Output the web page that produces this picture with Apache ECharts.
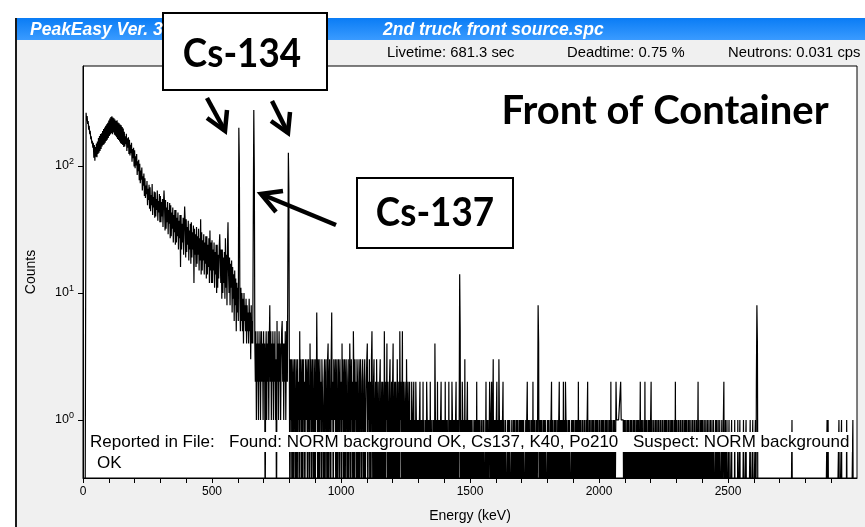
<!DOCTYPE html>
<html>
<head>
<meta charset="utf-8">
<script src="https://cdn.jsdelivr.net/npm/echarts@6/dist/echarts.min.js"></script>
<style>
  html, body { margin: 0; padding: 0; background: #ffffff; }
  #chart { width: 865px; height: 527px; }
</style>
</head>
<body>
<div id="chart"></div>
<script>
// Gamma spectrum, 2 keV per channel, counts per channel.
const keVPerChannel = 2;

// 0 - 598 keV: low-energy continuum and backscatter hump, Cs-134 563 keV line
const countsA = [
  0, 0, 0, 0, 0, 0, 262, 228, 247, 214,
  226, 193, 207, 178, 189, 162, 171, 150, 158, 139,
  152, 116, 146, 110, 141, 118, 150, 117, 156, 124,
  166, 127, 172, 131, 178, 136, 181, 142, 188, 146,
  195, 148, 201, 152, 207, 157, 213, 161, 219, 166,
  228, 172, 236, 177, 243, 181, 246, 178, 240, 183,
  237, 176, 232, 173, 226, 168, 229, 163, 220, 160,
  217, 156, 212, 151, 209, 149, 202, 146, 197, 141,
  186, 142, 171, 148, 179, 131, 165, 139, 168, 124,
  161, 121, 147, 126, 152, 108, 136, 115, 139, 99,
  133, 96, 119, 101, 124, 85, 109, 91, 112, 77,
  104, 73, 92, 78, 97, 64, 83, 70, 87, 58,
  80, 56, 70, 60, 76, 49, 66, 54, 71, 46,
  68, 44, 59, 49, 72, 41, 57, 47, 63, 39,
  62, 40, 55, 45, 64, 37, 53, 43, 60, 36,
  58, 36, 52, 40, 55, 33, 50, 64, 49, 31,
  54, 32, 47, 36, 52, 29, 45, 35, 51, 27,
  49, 28, 43, 32, 47, 25, 41, 30, 45, 24,
  45, 25, 39, 28, 43, 22, 37, 27, 41, 16,
  41, 22, 35, 25, 39, 20, 33, 48, 37, 19,
  38, 21, 33, 24, 37, 18, 31, 22, 35, 17,
  36, 19, 30, 22, 34, 12, 32, 20, 29, 16,
  33, 17, 28, 20, 32, 15, 27, 18, 38, 14,
  30, 15, 26, 18, 29, 14, 25, 17, 28, 13,
  28, 14, 24, 16, 27, 12, 31, 15, 25, 12,
  26, 12, 22, 15, 25, 11, 21, 14, 24, 10,
  24, 11, 20, 13, 23, 29, 19, 12, 22, 9,
  22, 10, 19, 12, 21, 9, 27, 11, 20, 8,
  23, 36, 15, 10, 19, 8, 17, 11, 18, 7,
  16, 9, 14, 6, 15, 8, 13, 5, 12, 7
];
// 600 - 798 keV: Cs-134 605 / 796 keV and Cs-137 662 keV
const countsB = [
  11, 6, 200, 105, 9, 5, 11, 6, 10, 5,
  9, 4, 10, 6, 8, 5, 9, 4, 8, 5,
  7, 4, 9, 5, 7, 3, 8, 4, 6, 4,
  40, 275, 93, 4, 2, 5, 1, 4, 2, 5,
  1, 4, 2, 5, 1, 3, 5, 2, 4, 1,
  5, 2, 4, 0, 3, 5, 1, 4, 2, 5,
  1, 4, 8, 2, 5, 1, 4, 2, 5, 1,
  4, 2, 5, 1, 3, 0, 6, 2, 4, 1,
  5, 2, 4, 1, 3, 5, 6, 2, 4, 1,
  4, 2, 5, 1, 3, 6, 2, 17, 127, 65
];
// 800 - 1298 keV
const countsC = [
  2, 0, 3, 1, 3, 0, 2, 3, 0, 2,
  3, 1, 0, 3, 2, 0, 3, 1, 2, 0,
  5, 1, 3, 0, 2, 3, 0, 3, 1, 2,
  0, 3, 2, 1, 3, 0, 2, 3, 1, 0,
  4, 1, 3, 0, 2, 3, 1, 0, 3, 2,
  0, 3, 1, 7, 2, 0, 3, 2, 0, 3,
  1, 2, 0, 3, 3, 1, 0, 2, 3, 0,
  2, 3, 1, 0, 3, 4, 0, 2, 3, 1,
  0, 3, 7, 1, 2, 0, 3, 2, 1, 3,
  0, 2, 3, 0, 1, 3, 2, 0, 3, 1,
  2, 0, 4, 1, 3, 0, 2, 3, 0, 2,
  3, 1, 0, 2, 3, 0, 1, 4, 2, 0,
  3, 1, 2, 0, 5, 2, 0, 3, 1, 2,
  0, 3, 2, 0, 1, 3, 0, 2, 3, 1,
  0, 2, 3, 1, 0, 2, 3, 0, 1, 2,
  3, 4, 0, 2, 1, 3, 0, 2, 0, 3,
  5, 1, 0, 2, 3, 0, 1, 2, 0, 3,
  1, 0, 2, 1, 0, 2, 3, 0, 1, 2,
  0, 2, 1, 0, 5, 1, 0, 2, 1, 4,
  0, 2, 1, 0, 2, 3, 0, 1, 2, 0,
  2, 4, 0, 1, 2, 0, 2, 1, 0, 3,
  1, 0, 2, 0, 5, 1, 2, 0, 1, 5,
  0, 2, 1, 0, 2, 1, 0, 3, 1, 0,
  2, 0, 1, 2, 0, 1, 0, 2, 1, 0,
  1, 2, 0, 1, 0, 2, 1, 0, 1, 0
];
// 1300 - 1998 keV: K-40 1461 keV and Bi-214 1764 keV
const countsD = [
  1, 0, 1, 2, 0, 1, 0, 1, 0, 2,
  0, 1, 1, 0, 1, 0, 2, 1, 0, 1,
  0, 1, 0, 2, 0, 1, 1, 0, 1, 0,
  1, 0, 4, 1, 0, 1, 0, 2, 0, 1,
  0, 1, 0, 1, 2, 0, 1, 0, 1, 0,
  1, 0, 2, 0, 1, 0, 1, 1, 0, 2,
  0, 1, 0, 1, 0, 2, 1, 0, 1, 0,
  1, 0, 1, 2, 0, 1, 0, 1, 0, 1,
  14, 5, 0, 1, 0, 2, 1, 0, 1, 0,
  3, 0, 1, 0, 1, 2, 0, 1, 0, 1,
  0, 1, 0, 1, 1, 0, 1, 0, 0, 1,
  0, 1, 0, 2, 0, 1, 0, 1, 0, 1,
  1, 0, 1, 0, 0, 1, 0, 1, 1, 0,
  0, 2, 0, 1, 0, 1, 0, 0, 2, 1,
  0, 1, 2, 0, 1, 3, 0, 1, 0, 1,
  0, 1, 2, 0, 1, 0, 3, 1, 0, 1,
  0, 1, 0, 1, 2, 0, 1, 0, 0, 1,
  1, 0, 0, 1, 0, 1, 0, 1, 1, 0,
  0, 1, 0, 0, 1, 0, 1, 1, 0, 1,
  0, 1, 0, 1, 0, 0, 1, 0, 1, 0,
  1, 0, 1, 0, 1, 1, 0, 0, 1, 0,
  1, 2, 0, 1, 0, 1, 0, 0, 1, 0,
  1, 0, 2, 0, 1, 0, 1, 0, 0, 1,
  0, 1, 8, 4, 0, 1, 0, 1, 0, 1,
  0, 0, 1, 0, 1, 0, 1, 1, 0, 0,
  1, 0, 1, 0, 0, 1, 0, 1, 2, 0,
  1, 0, 0, 1, 0, 1, 0, 1, 0, 0,
  1, 0, 1, 2, 0, 1, 0, 1, 0, 1,
  0, 2, 0, 1, 0, 2, 1, 0, 1, 0,
  0, 1, 0, 1, 1, 0, 0, 1, 0, 1,
  0, 1, 0, 0, 1, 0, 1, 0, 1, 0,
  2, 0, 1, 0, 1, 0, 0, 1, 0, 1,
  1, 0, 1, 0, 0, 1, 0, 1, 2, 0,
  0, 1, 0, 1, 0, 0, 1, 0, 1, 0,
  1, 0, 0, 1, 0, 1, 0, 1, 0, 0
];
// 2000 - 2618 keV: Tl-208 2614 keV
const countsE = [
  1, 0, 1, 0, 0, 1, 0, 1, 0, 1,
  0, 0, 1, 0, 1, 0, 1, 0, 0, 1,
  0, 1, 0, 2, 0, 1, 0, 0, 1, 0,
  1, 0, 0, 2, 1, 1, 1, 1, 1, 1,
  1, 1, 2, 1, 1, 1, 1, 1, 0, 1,
  0, 1, 0, 0, 1, 0, 1, 0, 1, 0,
  0, 1, 0, 1, 0, 0, 1, 0, 1, 0,
  1, 0, 0, 1, 0, 1, 0, 1, 0, 0,
  2, 0, 1, 0, 1, 0, 0, 1, 0, 2,
  0, 1, 0, 1, 0, 0, 1, 0, 1, 0,
  1, 2, 0, 1, 0, 0, 1, 0, 0, 1,
  0, 1, 0, 0, 1, 0, 1, 0, 0, 1,
  0, 0, 1, 0, 1, 0, 0, 1, 0, 1,
  0, 1, 0, 0, 1, 0, 1, 0, 0, 1,
  0, 1, 0, 1, 0, 0, 1, 0, 2, 0,
  1, 0, 0, 1, 0, 1, 0, 0, 1, 0,
  0, 1, 0, 1, 0, 0, 1, 0, 1, 0,
  1, 0, 0, 1, 0, 1, 0, 0, 1, 0,
  0, 1, 0, 0, 1, 0, 1, 0, 0, 1,
  0, 0, 2, 0, 1, 0, 0, 1, 0, 1,
  0, 1, 0, 0, 1, 0, 0, 1, 0, 0,
  1, 0, 0, 1, 0, 0, 1, 0, 0, 1,
  0, 0, 1, 0, 0, 0, 1, 0, 1, 0,
  0, 1, 0, 0, 1, 0, 0, 0, 1, 0,
  0, 1, 2, 0, 0, 1, 0, 0, 1, 0,
  0, 0, 1, 0, 0, 0, 0, 1, 0, 0,
  0, 0, 0, 1, 0, 0, 0, 0, 0, 1,
  0, 0, 0, 1, 0, 0, 0, 0, 0, 0,
  1, 0, 0, 0, 0, 1, 0, 0, 0, 0,
  0, 0, 0, 1, 0, 0, 0, 0, 1, 0,
  0, 0, 0, 1, 0, 2, 8, 4, 0, 0
];
// 2620 - 2998 keV
const countsF = [
  0, 0, 0, 0, 0, 0, 0, 0, 0, 0,
  0, 0, 0, 0, 0, 0, 0, 0, 0, 0,
  0, 0, 0, 0, 0, 0, 0, 0, 0, 0,
  0, 0, 0, 0, 0, 0, 0, 0, 0, 0,
  0, 0, 0, 0, 0, 0, 0, 0, 0, 0,
  0, 0, 0, 0, 0, 0, 0, 0, 0, 0,
  0, 0, 0, 0, 1, 0, 0, 0, 0, 0,
  0, 0, 0, 0, 0, 0, 0, 0, 0, 0,
  0, 0, 0, 0, 0, 0, 0, 0, 0, 0,
  0, 0, 0, 0, 0, 0, 0, 0, 0, 0,
  0, 0, 0, 0, 0, 0, 0, 0, 0, 0,
  0, 0, 0, 0, 0, 0, 0, 0, 0, 0,
  0, 0, 0, 0, 0, 0, 0, 0, 0, 0,
  0, 0, 1, 0, 1, 0, 0, 0, 0, 0,
  0, 0, 0, 0, 0, 0, 0, 0, 0, 0,
  0, 0, 0, 0, 0, 1, 0, 0, 0, 0,
  1, 0, 0, 0, 0, 0, 0, 0, 0, 0,
  1, 0, 0, 0, 0, 0, 0, 0, 0, 0,
  0, 0, 1, 0, 0, 0, 0, 0, 0, 0
];

const energyTicks = [0, 500, 1000, 1500, 2000, 2500];
const countDecades = [1, 10, 100];

const spectrum = [].concat(countsA, countsB, countsC, countsD, countsE, countsF);
// empty channels drop below the log axis floor and are clipped by the grid
const EMPTY_LEVEL = 0.1;
const spectrumPoints = spectrum.map((c, i) => [i * keVPerChannel, c > 0 ? c : EMPTY_LEVEL]);

const SANS = '"Liberation Sans", Arial, sans-serif';
const CAL = 'Lato, "Open Sans", sans-serif';

function arrow(shaft, head) {
  return [
    { type: 'polyline', z: 120, shape: { points: shaft },
      style: { stroke: '#000', lineWidth: 4.5, fill: null, lineCap: 'butt' } },
    { type: 'polyline', z: 120, shape: { points: head },
      style: { stroke: '#000', lineWidth: 4.5, fill: null, lineJoin: 'miter', lineCap: 'butt' } }
  ];
}

function txt(x, y, text, font, color, align, extra) {
  return Object.assign({
    type: 'text', z: 110, x: x, y: y,
    style: {
      text: text, font: font, fill: color,
      align: align || 'left', verticalAlign: 'middle',
      textAlign: align || 'left', textVerticalAlign: 'middle'
    }
  }, extra || {});
}

const chart = echarts.init(document.getElementById('chart'), null, { renderer: 'canvas' });

chart.setOption({
  animation: false,
  backgroundColor: '#ffffff',
  grid: {
    left: 83, right: 8, top: 66, bottom: 49,
    containLabel: false, outerBoundsMode: 'none',
    show: true, backgroundColor: '#ffffff', borderColor: '#000', borderWidth: 1
  },
  xAxis: {
    type: 'value', min: 0, max: 3000, interval: 100,
    name: 'Energy (keV)', nameLocation: 'middle', nameGap: 31,
    nameTextStyle: { fontFamily: SANS, fontSize: 14, color: '#000' },
    axisLine: { show: true, lineStyle: { color: '#000', width: 1 } },
    axisTick: { show: true, length: 5, lineStyle: { color: '#000' } },
    axisLabel: {
      margin: 8, fontFamily: SANS, fontSize: 12, color: '#000',
      showMaxLabel: false,
      formatter: v => (energyTicks.indexOf(v) >= 0 ? String(v) : '')
    },
    splitLine: { show: false }
  },
  yAxis: {
    type: 'log', logBase: 10, min: 0.349, max: 612,
    name: 'Counts', nameLocation: 'middle', nameGap: 45, nameRotate: 90,
    nameTextStyle: { fontFamily: SANS, fontSize: 14, color: '#000' },
    axisLine: { show: true, lineStyle: { color: '#000', width: 1 } },
    axisTick: { show: true, length: 5, lineStyle: { color: '#000' } },
    axisLabel: {
      margin: 9, color: '#000',
      showMinLabel: false, showMaxLabel: false,
      formatter: v => {
        const d = countDecades.find(t => Math.abs(t - v) < 1e-6 * t);
        return d ? '{b|10}{s|' + Math.round(Math.log10(d)) + '}' : '';
      },
      rich: {
        b: { fontFamily: SANS, fontSize: 12.5, color: '#000' },
        s: { fontFamily: SANS, fontSize: 9, color: '#000', padding: [0, 0, 8, 0] }
      }
    },
    splitLine: { show: false }
  },
  series: [{
    type: 'line',
    data: spectrumPoints,
    showSymbol: false,
    symbol: 'none',
    clip: true,
    lineStyle: { color: '#000', width: 1.2 },
    emphasis: { disabled: true },
    z: 5
  }],
  graphic: [].concat([
    // window chrome
    { type: 'rect', z: -100, shape: { x: 17, y: 40, width: 848, height: 487 }, style: { fill: '#f0f0f0' } },
    { type: 'rect', z: -99, shape: { x: 15, y: 18, width: 850, height: 22 },
      style: { fill: new echarts.graphic.LinearGradient(0, 0, 0, 1, [
        { offset: 0, color: '#0a7cf5' }, { offset: 1, color: '#3a9bff' }]) } },
    { type: 'rect', z: -98, shape: { x: 15, y: 18, width: 2, height: 509 }, style: { fill: '#1a1a1a' } },
    txt(30, 30, 'PeakEasy Ver. 3', 'italic bold 17.5px ' + SANS, '#ffffff'),
    txt(383, 30, '2nd truck front source.spc', 'italic bold 17.5px ' + SANS, '#ffffff'),
    txt(387, 53, 'Livetime: 681.3 sec', '14.8px ' + SANS, '#000'),
    txt(567, 53, 'Deadtime: 0.75 %', '14.8px ' + SANS, '#000'),
    txt(728, 53, 'Neutrons: 0.031 cps', '14.8px ' + SANS, '#000'),

    // identification report strip
    { type: 'rect', z: 100, shape: { x: 88, y: 432, width: 764, height: 20 }, style: { fill: '#ffffff' } },
    txt(90, 442, 'Reported in File:', '17px ' + SANS, '#000'),
    txt(229, 442, 'Found: NORM background OK, Cs137, K40, Po210', '17px ' + SANS, '#000'),
    txt(633, 442, 'Suspect: NORM background', '17px ' + SANS, '#000'),
    txt(97, 463, 'OK', '17px ' + SANS, '#000'),

    // callouts
    { type: 'rect', z: 105, shape: { x: 163, y: 13, width: 164, height: 77 },
      style: { fill: '#ffffff', stroke: '#000', lineWidth: 2 } },
    txt(242, 54, 'Cs-134', 'bold 40px ' + CAL, '#000', 'center', { scaleX: 0.92 }),
    { type: 'rect', z: 105, shape: { x: 357, y: 178, width: 156, height: 70 },
      style: { fill: '#ffffff', stroke: '#000', lineWidth: 2 } },
    txt(435, 213, 'Cs-137', 'bold 40px ' + CAL, '#000', 'center', { scaleX: 0.92 }),
    txt(665, 111, 'Front of Container', 'bold 40px ' + CAL, '#000', 'center')
  ],
    arrow([[207, 98], [225, 131]], [[207, 118], [225, 131], [227, 110]]),
    arrow([[272, 101], [288, 133]], [[271, 121], [288, 133], [290, 112]]),
    arrow([[336, 225], [261, 194]], [[283, 191], [261, 194], [276, 212]])
  )
});
</script>
</body>
</html>
